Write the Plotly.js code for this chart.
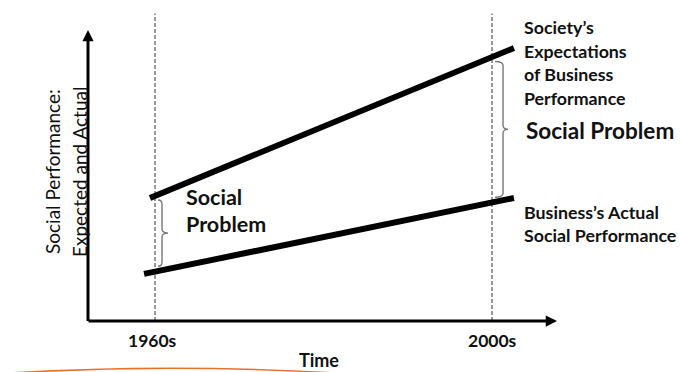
<!DOCTYPE html>
<html>
<head>
<meta charset="utf-8">
<script src="https://cdn.plot.ly/plotly-3.0.1.min.js"></script>
<style>html,body{margin:0;padding:0;background:#fff;}#chart{width:680px;height:372px;}</style>
</head>
<body>
<div id="chart"></div>
<script>
// ---- data ----
const periodLabels = ['1960s', '2000s'];
const periodYears = [1960, 2000];
const expectedX = [1959.4, 2002.6];
const expectedY = [41, 91];
const actualX = [1958.7, 2002.6];
const actualY = [15.7, 41];
const expectedLabel = ['Society\u2019s', 'Expectations', 'of Business', 'Performance'];
const actualLabel = ['Business\u2019s Actual', 'Social Performance'];
const gapLabel = 'Social Problem';
const gapLabelLeft = ['Social', 'Problem'];
const yTitle = ['Social Performance:', 'Expected and Actual'];
const xTitle = 'Time';

// ---- scale helpers ----
const X0 = 1941.6, X1 = 2022.31, Y0 = -17, Y1 = 107;
const W = 680, H = 372;
const pxX = p => X0 + p * (X1 - X0) / W;
const pxY = p => Y1 - p * (Y1 - Y0) / H;
const ux = p => p * (X1 - X0) / W;   // px -> x units
const uy = p => p * (Y1 - Y0) / H;   // px -> y units
function interp(xs, ys, x) { return ys[0] + (x - xs[0]) * (ys[1] - ys[0]) / (xs[1] - xs[0]); }

const font = 'Lato, "Open Sans", sans-serif';
const ink = '#111';

function brace(x, yTop, yBot, endW, tipW) {
  const r = uy(4), ym = (yTop + yBot) / 2;
  return `M${x - endW},${yTop} Q${x},${yTop} ${x},${yTop - r} L${x},${ym + r} ` +
         `Q${x},${ym} ${x + tipW},${ym} Q${x},${ym} ${x},${ym - r} L${x},${yBot + r} ` +
         `Q${x},${yBot} ${x - endW},${yBot}`;
}

const traces = [];
// dashed period guides
periodYears.forEach(yr => traces.push({
  x: [yr, yr], y: [0, 102.5], mode: 'lines', hoverinfo: 'skip',
  line: {color: '#333', width: 1, dash: '4px,2px'}
}));
traces.push({x: expectedX, y: expectedY, mode: 'lines', hoverinfo: 'skip', line: {color: '#000', width: 6}});
traces.push({x: actualX, y: actualY, mode: 'lines', hoverinfo: 'skip', line: {color: '#000', width: 6}});

// braces derived from the lines
const bL = periodYears[0] + ux(7), bR = periodYears[1] + ux(11);
const shapes = [
  {type: 'path', xref: 'x', yref: 'y', line: {color: '#777', width: 1.4},
   path: brace(bL, interp(expectedX, expectedY, bL) - uy(7), interp(actualX, actualY, bL) + uy(4), ux(4), ux(6))},
  {type: 'path', xref: 'x', yref: 'y', line: {color: '#777', width: 1.4},
   path: brace(bR, interp(expectedX, expectedY, bR) - uy(9), interp(actualX, actualY, bR) + uy(3), ux(8), ux(5))},
  // decorative orange arc at the bottom edge
  {type: 'path', xref: 'x', yref: 'y', line: {color: '#e8702a', width: 1.6},
   path: `M${pxX(10)},${pxY(373)} Q${pxX(170)},${pxY(363.5)} ${pxX(335)},${pxY(373)}`}
];

const annotations = [];
// axes with arrowheads
annotations.push({x: pxX(557), y: 0, ax: pxX(87), ay: 0, axref: 'x', ayref: 'y', xref: 'x', yref: 'y',
  text: '', showarrow: true, arrowhead: 2, arrowsize: 0.75, arrowwidth: 3, arrowcolor: '#000'});
annotations.push({x: pxX(88), y: pxY(30), ax: pxX(88), ay: pxY(322.5), axref: 'x', ayref: 'y', xref: 'x', yref: 'y',
  text: '', showarrow: true, arrowhead: 2, arrowsize: 0.75, arrowwidth: 3, arrowcolor: '#000'});

// tick labels
periodLabels.forEach((t, i) => annotations.push({x: periodYears[i], y: pxY(340), xref: 'x', yref: 'y',
  text: t, showarrow: false, xanchor: 'center', yanchor: 'middle', xshift: i === 0 ? -3 : 0,
  font: {family: font, size: 17.5, color: ink, weight: 'bold'}}));
annotations.push({x: pxX(319), y: pxY(359.5), xref: 'x', yref: 'y', text: xTitle, showarrow: false,
  yanchor: 'middle', font: {family: font, size: 18, color: ink, weight: 'bold'}});
// y title
yTitle.forEach((t, i) => annotations.push({x: pxX(i === 0 ? 52 : 79), y: pxY(172), xref: 'x', yref: 'y',
  text: t, showarrow: false, textangle: -90, font: {family: font, size: 19, color: ink}}));
// right labels
expectedLabel.forEach((t, i) => annotations.push({x: pxX(522), y: pxY(27 + i * 23.7), xref: 'x', yref: 'y',
  text: t, showarrow: false, xanchor: 'left', font: {family: font, size: 17.8, color: ink, weight: 'bold'}}));
actualLabel.forEach((t, i) => annotations.push({x: pxX(522), y: pxY(212 + i * 22.5), xref: 'x', yref: 'y',
  text: t, showarrow: false, xanchor: 'left', font: {family: font, size: 17.8, color: ink, weight: 'bold'}}));
annotations.push({x: pxX(524), y: pxY(130), xref: 'x', yref: 'y', text: gapLabel, showarrow: false,
  xanchor: 'left', font: {family: font, size: 22.5, color: ink, weight: 'bold'}});
gapLabelLeft.forEach((t, i) => annotations.push({x: pxX(184), y: pxY(197 + i * 27), xref: 'x', yref: 'y',
  text: t, showarrow: false, xanchor: 'left', font: {family: font, size: 21.5, color: ink, weight: 'bold'}}));

const layout = {
  width: W, height: H, margin: {l: 0, r: 0, t: 0, b: 0},
  paper_bgcolor: '#fff', plot_bgcolor: '#fff', showlegend: false,
  xaxis: {range: [X0, X1], visible: false, fixedrange: true},
  yaxis: {range: [Y0, Y1], visible: false, fixedrange: true},
  shapes: shapes, annotations: annotations
};
Plotly.newPlot('chart', traces, layout, {staticPlot: true});
</script>
</body>
</html>
